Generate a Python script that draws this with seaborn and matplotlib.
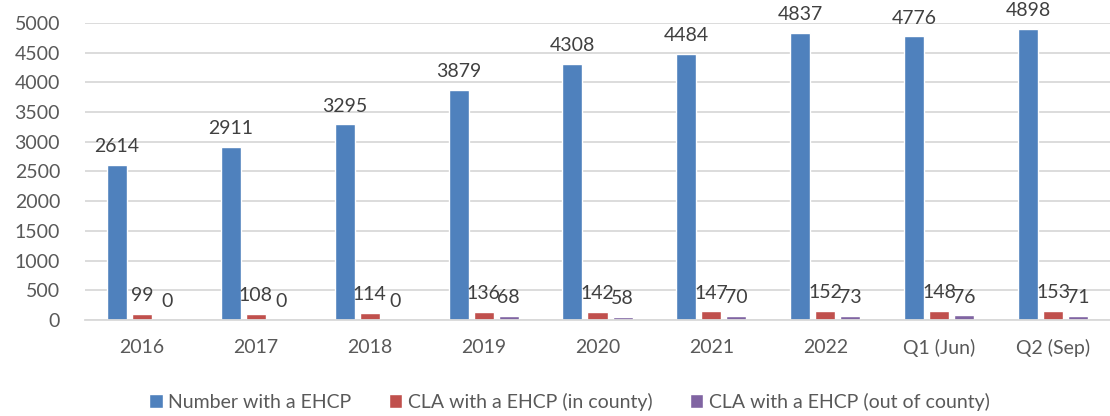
import numpy as np
import pandas as pd
import matplotlib
matplotlib.use("Agg")
import matplotlib.pyplot as plt
import seaborn as sns

categories = ["2016", "2017", "2018", "2019", "2020", "2021", "2022", "Q1 (Jun)", "Q2 (Sep)"]
ehcp_total = [2614, 2911, 3295, 3879, 4308, 4484, 4837, 4776, 4898]
cla_in_county = [99, 108, 114, 136, 142, 147, 152, 148, 153]
cla_out_county = [0, 0, 0, 68, 58, 70, 73, 76, 71]
series_names = ["Number with a EHCP", "CLA with a EHCP (in county)", "CLA with a EHCP (out of county)"]
colors = ["#4F81BD", "#C0504D", "#8064A2"]

rows = []
for name, vals in zip(series_names, [ehcp_total, cla_in_county, cla_out_county]):
    for cat, v in zip(categories, vals):
        rows.append({"category": cat, "series": name, "value": v})
df = pd.DataFrame(rows)

sns.set_style("white")
plt.rcParams["font.family"] = ["Lato", "DejaVu Sans"]
text_color = "#595959"

fig = plt.figure(figsize=(11.1, 4.16), dpi=100)
ax = fig.add_axes([0.0766, 0.2308, 0.9234, 0.7139])

sns.barplot(data=df, x="category", y="value", hue="series", hue_order=series_names,
            palette=colors, width=0.66, gap=0.2, ax=ax, saturation=1, legend=True)

# value labels above every bar, like the Excel original
for cont in ax.containers:
    ax.bar_label(cont, padding=7, fontsize=14, color="#404040", clip_on=False)

ax.set_ylim(0, 5000)
ax.set_yticks(np.arange(0, 5001, 500))
ax.set_xlim(-0.5, len(categories) - 0.5)
ax.yaxis.grid(True, color="#D9D9D9", linewidth=1.3)
ax.set_axisbelow(True)
for s in ["top", "right", "left"]:
    ax.spines[s].set_visible(False)
ax.spines["bottom"].set_color("#D9D9D9")
ax.spines["bottom"].set_linewidth(1.3)
ax.tick_params(axis="both", length=0, labelsize=14, colors=text_color)
ax.tick_params(axis="x", pad=14)
ax.tick_params(axis="y", pad=18)
ax.set_xlabel("")
ax.set_ylabel("")

handles, labels = ax.get_legend_handles_labels()
ax.legend_.remove()
fig.legend(handles, labels, loc="lower center", bbox_to_anchor=(0.513, -0.03), ncol=3,
           frameon=False, fontsize=14, handlelength=0.7, handleheight=0.7,
           handletextpad=0.3, columnspacing=1.9, labelcolor=text_color)

fig.savefig("out.png", dpi=100)
plt.close(fig)
